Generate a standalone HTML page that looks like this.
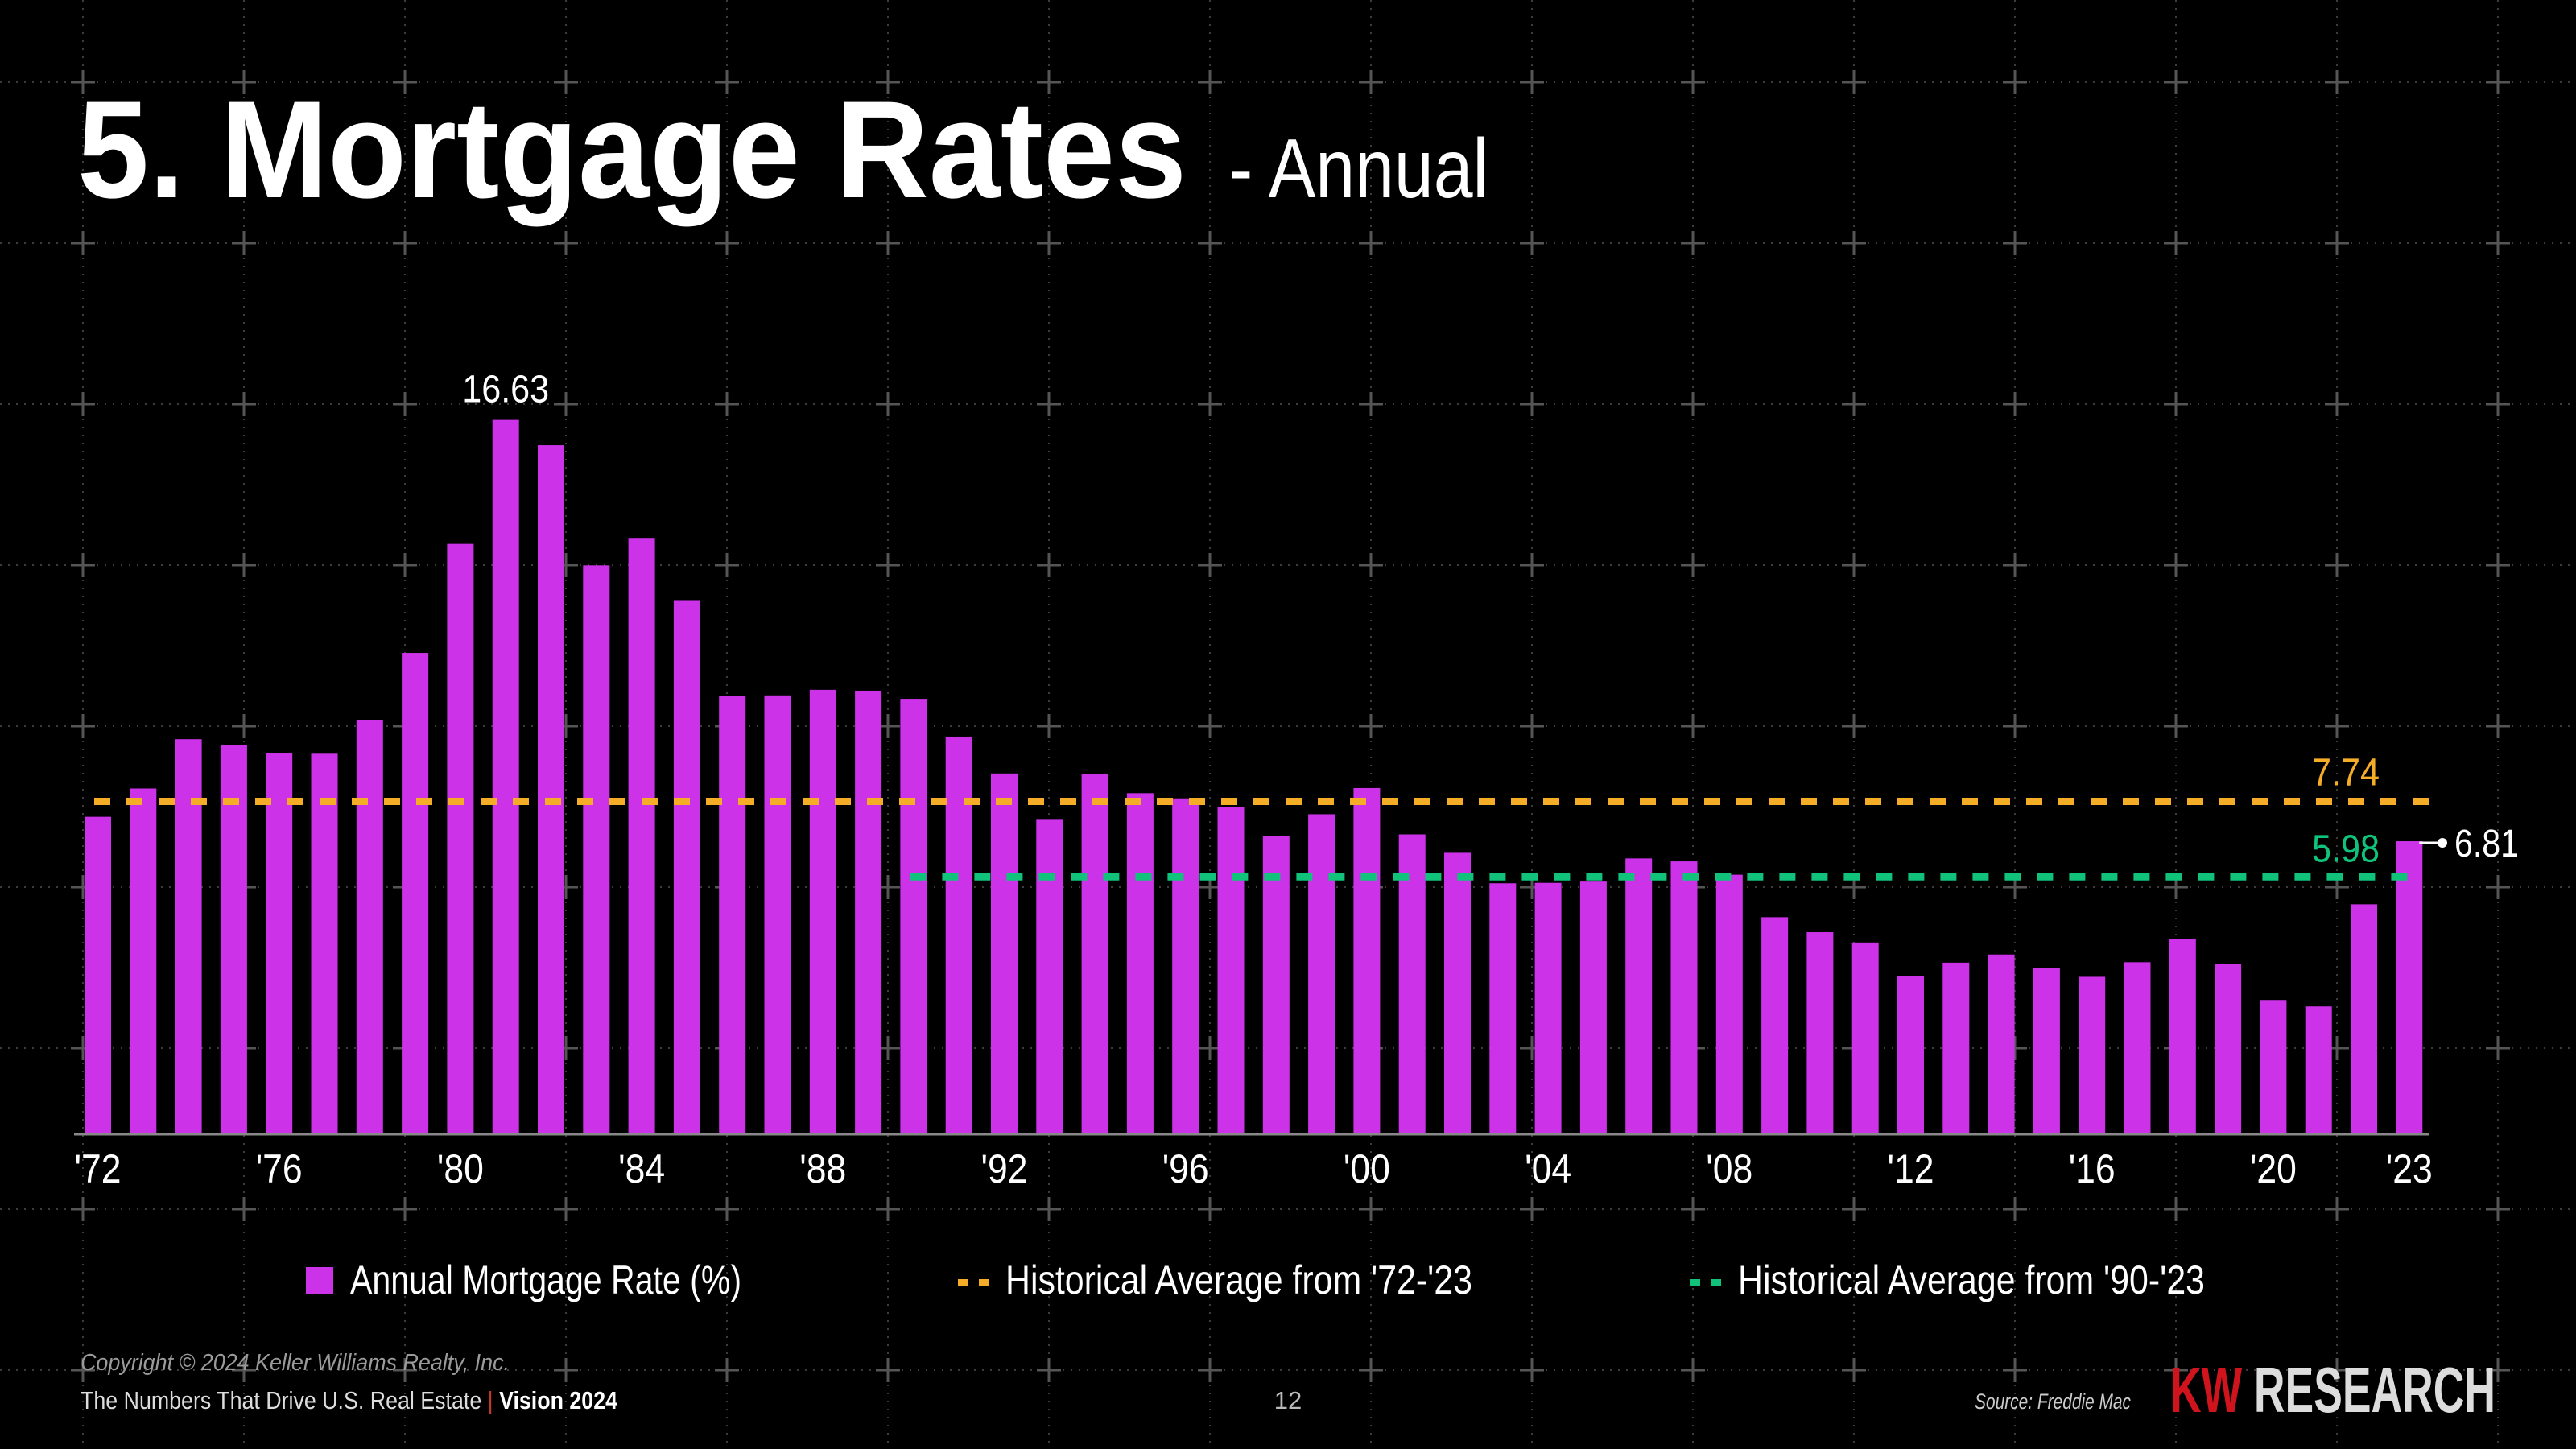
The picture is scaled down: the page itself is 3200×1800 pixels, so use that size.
<!DOCTYPE html>
<html><head><meta charset="utf-8"><style>
html,body{margin:0;padding:0;background:#000;}
svg{display:block;}
text{font-family:"Liberation Sans Narrow","Liberation Sans",sans-serif;}
</style></head><body>
<svg id="chart" width="3200" height="1800" viewBox="0 0 3200 1800" xmlns="http://www.w3.org/2000/svg">
<rect width="3200" height="1800" fill="#000"/>
<g id="grid"></g>
<text x="96" y="245" fill="#fff" font-size="172" font-weight="bold" textLength="1378" lengthAdjust="spacingAndGlyphs">5. Mortgage Rates</text>
<text x="1527" y="245" fill="#fff" font-size="104" textLength="322" lengthAdjust="spacingAndGlyphs">- Annual</text>
<g id="bars"></g>
<g id="xaxis"></g>
<g id="lines"></g>
<g>
 <rect x="380" y="1574" width="34" height="34" fill="#cc33e8"/>
 <text x="435" y="1607" fill="#fff" font-size="50" textLength="486" lengthAdjust="spacingAndGlyphs">Annual Mortgage Rate (%)</text>
 <line x1="1190" y1="1593" x2="1232" y2="1593" stroke="#f5ad27" stroke-width="8" stroke-dasharray="12 14"/>
 <text x="1249" y="1607" fill="#fff" font-size="50" textLength="580" lengthAdjust="spacingAndGlyphs">Historical Average from '72-'23</text>
 <line x1="2100" y1="1593" x2="2142" y2="1593" stroke="#10c27a" stroke-width="8" stroke-dasharray="12 14"/>
 <text x="2159" y="1607" fill="#fff" font-size="50" textLength="580" lengthAdjust="spacingAndGlyphs">Historical Average from '90-'23</text>
</g>
<text x="100" y="1702" fill="#9a9a9a" font-size="29" font-style="italic" textLength="533" lengthAdjust="spacingAndGlyphs">Copyright © 2024 Keller Williams Realty, Inc.</text>
<text x="100" y="1750" fill="#ddd" font-size="31" textLength="667" lengthAdjust="spacingAndGlyphs">The Numbers That Drive U.S. Real Estate <tspan fill="#c0392b">|</tspan> <tspan font-weight="bold" fill="#fff">Vision 2024</tspan></text>
<text x="1600" y="1750" fill="#bbb" font-size="31" text-anchor="middle">12</text>
<text x="2453" y="1750" fill="#ccc" font-size="27" font-style="italic" textLength="194" lengthAdjust="spacingAndGlyphs">Source: Freddie Mac</text>
<text x="2696" y="1754" font-size="80" font-weight="bold" textLength="404" lengthAdjust="spacingAndGlyphs"><tspan fill="#d0141e">KW</tspan><tspan fill="#ddd"> RESEARCH</tspan></text>
</svg>
<script>
const years = [1972,1973,1974,1975,1976,1977,1978,1979,1980,1981,1982,1983,1984,1985,1986,1987,1988,1989,1990,1991,1992,1993,1994,1995,1996,1997,1998,1999,2000,2001,2002,2003,2004,2005,2006,2007,2008,2009,2010,2011,2012,2013,2014,2015,2016,2017,2018,2019,2020,2021,2022,2023];
const rates = [7.38,8.04,9.19,9.05,8.87,8.85,9.64,11.20,13.74,16.63,16.04,13.24,13.88,12.43,10.19,10.21,10.34,10.32,10.13,9.25,8.39,7.31,8.38,7.93,7.81,7.60,6.94,7.44,8.05,6.97,6.54,5.83,5.84,5.87,6.41,6.34,6.03,5.04,4.69,4.45,3.66,3.98,4.17,3.85,3.65,3.99,4.54,3.94,3.11,2.96,5.34,6.81];
const tickYears = [1972,1976,1980,1984,1988,1992,1996,2000,2004,2008,2012,2016,2020,2023];
const tickLabels = ["'72","'76","'80","'84","'88","'92","'96","'00","'04","'08","'12","'16","'20","'23"];
const avgAll = [7.74];
const avg90 = [5.98];
const avg90Start = [1990];

const NS="http://www.w3.org/2000/svg";
const base=1408, perPct=53.3, x0=121.5, pitch=56.3, bw=33;
const X=y=>x0+(y-years[0])*pitch;
const Y=v=>base-v*perPct;
function mk(tag,attrs,parent){const e=document.createElementNS(NS,tag);for(const k in attrs)e.setAttribute(k,attrs[k]);parent.appendChild(e);return e;}

const grid=document.getElementById('grid');
for(let gx=103;gx<3200;gx+=200){const l=mk('line',{x1:gx,y1:0,x2:gx,y2:1800,stroke:'#3c3c3c','stroke-width':2,'stroke-dasharray':'2 8'},grid);

}
for(let gy=102;gy<1800;gy+=200){const l=mk('line',{x1:0,y1:gy,x2:3200,y2:gy,stroke:'#3c3c3c','stroke-width':2,'stroke-dasharray':'2 8'},grid);


for(let gx=103;gx<3200;gx+=200){const c=mk('path',{d:`M${gx-15} ${gy}H${gx+15}M${gx} ${gy-15}V${gy+15}`,stroke:'#555','stroke-width':3},grid);

}}

const bars=document.getElementById('bars');
years.forEach((yr,i)=>{const r=mk('rect',{x:X(yr)-bw/2,y:Y(rates[i]),width:bw,height:rates[i]*perPct,fill:'#cc33e8'},bars);

});

const xa=document.getElementById('xaxis');
const bl=mk('line',{x1:92,y1:base+1,x2:3018,y2:base+1,stroke:'#888','stroke-width':3},xa);


tickYears.forEach((ty,i)=>{const t=mk('text',{x:X(ty)-29,y:1469,fill:'#fff','font-size':50,textLength:58,lengthAdjust:'spacingAndGlyphs'},xa);t.textContent=tickLabels[i];

});

const ln=document.getElementById('lines');
const l1=mk('line',{x1:X(years[0])-bw/2+12,y1:Y(avgAll[0]),x2:3020,y2:Y(avgAll[0]),stroke:'#f5ad27','stroke-width':9,'stroke-dasharray':'20 20'},ln);


const l2=mk('line',{x1:X(avg90Start[0])-bw/2+12,y1:Y(avg90[0]),x2:3000,y2:Y(avg90[0]),stroke:'#10c27a','stroke-width':9,'stroke-dasharray':'20 20'},ln);


const t1=mk('text',{x:2872,y:Y(avgAll[0])-20,fill:'#f5ad27','font-size':48,textLength:84,lengthAdjust:'spacingAndGlyphs'},ln);t1.textContent=avgAll[0].toFixed(2);


const t2=mk('text',{x:2872,y:Y(avg90[0])-19,fill:'#10c27a','font-size':48,textLength:84,lengthAdjust:'spacingAndGlyphs'},ln);t2.textContent=avg90[0].toFixed(2);


const iMax=rates.indexOf(Math.max(...rates));
const pk=mk('text',{x:X(years[iMax])-54,y:Y(rates[iMax])-22,fill:'#fff','font-size':48,textLength:108,lengthAdjust:'spacingAndGlyphs'},ln);pk.textContent=rates[iMax].toFixed(2);


const last=rates.length-1, ly=Y(rates[last])+2;
const ld=mk('path',{d:`M${X(years[last])+bw/2-4} ${ly}H3032`,stroke:'#fff','stroke-width':3},ln);


const dot=mk('circle',{cx:3034,cy:ly,r:6,fill:'#fff'},ln);


const lt=mk('text',{x:3049,y:ly+17,fill:'#fff','font-size':48,textLength:80,lengthAdjust:'spacingAndGlyphs'},ln);lt.textContent=rates[last].toFixed(2);


</script>
</body></html>
